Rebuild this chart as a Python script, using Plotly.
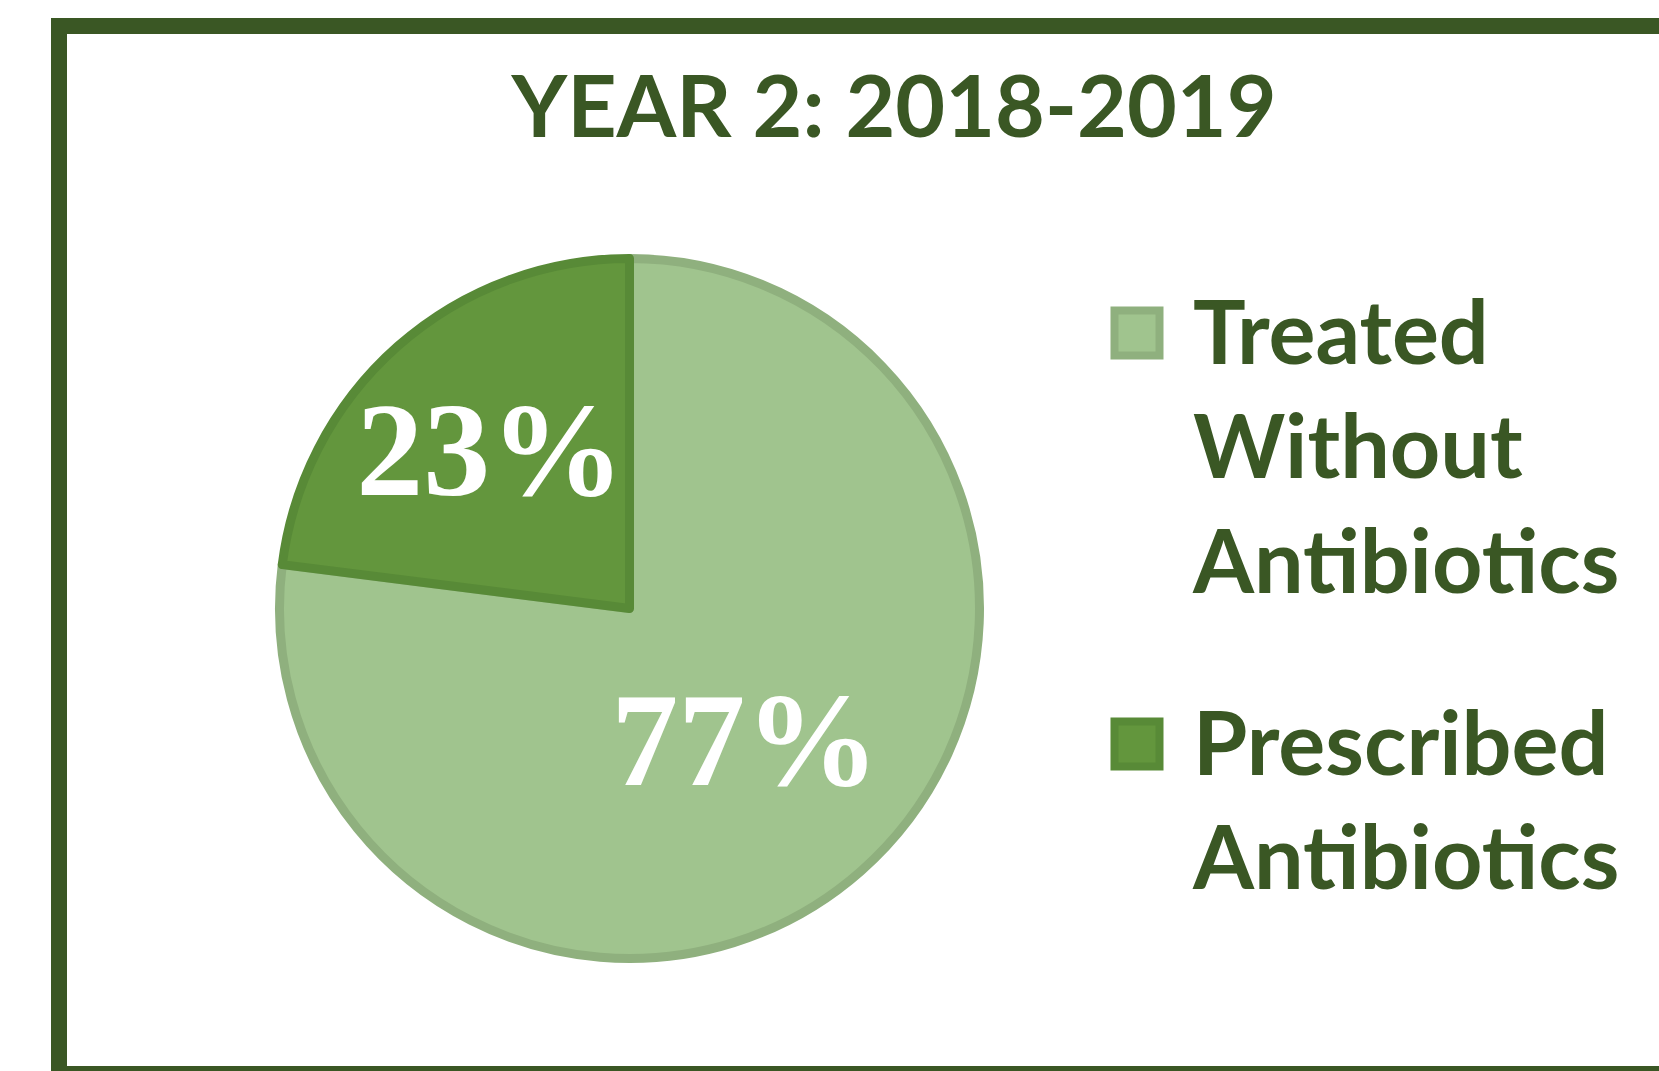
import plotly.graph_objects as go

# ---- data ----
categories = ["Treated<br>Without<br>Antibiotics", "Prescribed<br>Antibiotics"]
values = [77, 23]
fill_colors = ["#A0C48E", "#63963D"]
edge_colors = ["#8FB07E", "#588A37"]
title_text = "YEAR 2: 2018-2019"

W, H = 1659, 1071
TEXT_GREEN = "#3A5724"

def px_x(x):
    return x / W

def px_y(y):
    return 1 - y / H

fig = go.Figure()

# pie
cx, cy, r = 629.5, 608.5, 350
fig.add_trace(go.Pie(
    labels=[c.replace("<br>", " ") for c in categories],
    values=values,
    sort=False,
    direction="clockwise",
    rotation=0,
    marker=dict(colors=fill_colors, line=dict(color=edge_colors, width=9)),
    texttemplate="%{percent:.0%}",
    textposition="inside",
    insidetextorientation="horizontal",
    insidetextfont=dict(family="Times New Roman, Liberation Serif, serif", size=134,
                        color="white", weight="bold"),
    showlegend=False,
    hoverinfo="label+percent",
    domain=dict(x=[px_x(cx - r), px_x(cx + r)], y=[px_y(cy + r), px_y(cy - r)]),
))

# custom legend (large swatches)
leg_x = px_x(1137)
leg_text_x = px_x(1190)
leg_y = [px_y(333), px_y(744)]
for i, cat in enumerate(categories):
    fig.add_trace(go.Scatter(
        x=[leg_x], y=[leg_y[i]], mode="markers",
        marker=dict(symbol="square", size=45, color=fill_colors[i],
                    line=dict(color=edge_colors[i], width=8)),
        showlegend=False, hoverinfo="skip", xaxis="x", yaxis="y",
    ))
    fig.add_annotation(
        x=leg_text_x, y=leg_y[i], xref="paper", yref="paper",
        text=cat, showarrow=False, xanchor="left", yanchor="top", align="left",
        yshift=58,
        font=dict(family="Lato", size=88, color=TEXT_GREEN, weight="bold"),
    )

fig.update_layout(
    width=W, height=H,
    margin=dict(l=0, r=0, t=0, b=0),
    paper_bgcolor="white", plot_bgcolor="rgba(0,0,0,0)",
    uniformtext=dict(minsize=134, mode="show"),
    xaxis=dict(range=[0, 1], domain=[0, 1], visible=False, fixedrange=True),
    yaxis=dict(range=[0, 1], domain=[0, 1], visible=False, fixedrange=True),
    title=dict(text=title_text, x=px_x(894), xanchor="center",
               y=px_y(107), yanchor="middle",
               font=dict(family="Lato", size=86, color=TEXT_GREEN, weight="bold")),
    shapes=[dict(type="rect", xref="paper", yref="paper",
                 x0=px_x(59), x1=1.2, y0=px_y(1074), y1=px_y(26),
                 line=dict(color=TEXT_GREEN, width=16), layer="above")],
)

fig.write_html("out.html")
